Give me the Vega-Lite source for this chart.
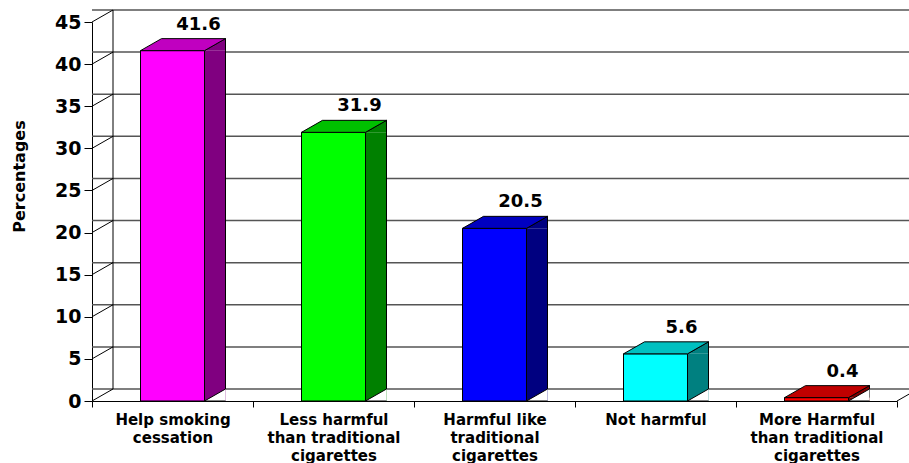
{
  "$schema": "https://vega.github.io/schema/vega-lite/v6.json",
  "width": 805,
  "height": 379,
  "autosize": "none",
  "padding": {"left": 92, "top": 22, "right": 12, "bottom": 62},
  "background": "white",
  "config": {
    "view": {"stroke": null},
    "font": "DejaVu Sans",
    "axisY": {
      "grid": false, "domainColor": "black", "tickColor": "black", "tickSize": 8,
      "labelFont": "DejaVu Sans", "labelFontWeight": "bold", "labelFontSize": 19, "labelColor": "black", "labelPadding": 3,
      "titleFont": "DejaVu Sans", "titleFontWeight": "bold", "titleFontSize": 16, "titleColor": "black",
      "titleX": -73, "titleY": 154, "titleAngle": -90, "titleAlign": "center", "titleBaseline": "middle", "zindex": 1
    },
    "axisX": {
      "grid": false, "domainColor": "black", "tickColor": "black", "tickBand": "extent", "tickSize": 6,
      "labelAngle": 0, "labelFont": "DejaVu Sans", "labelFontWeight": "bold", "labelFontSize": 15, "labelColor": "black",
      "labelLineHeight": 18, "labelPadding": 5, "labelLimit": 300, "zindex": 1
    }
  },
  "datasets": {
    "bars": [
      {"cat": "Help smoking cessation", "value": 41.6},
      {"cat": "Less harmful than traditional cigarettes", "value": 31.9},
      {"cat": "Harmful like traditional cigarettes", "value": 20.5},
      {"cat": "Not harmful", "value": 5.6},
      {"cat": "More Harmful than traditional cigarettes", "value": 0.4}
    ],
    "grid": [{"v": 0}, {"v": 5}, {"v": 10}, {"v": 15}, {"v": 20}, {"v": 25}, {"v": 30}, {"v": 35}, {"v": 40}, {"v": 45}],
    "one": [{}]
  },
  "resolve": {"scale": {"fill": "independent"}},
  "layer": [
    {
      "data": {"name": "grid"},
      "mark": {"type": "rule", "stroke": "#555555", "strokeWidth": 1.5, "xOffset": 21, "x2Offset": 21, "yOffset": -12, "y2Offset": -12},
      "encoding": {
        "y": {
          "field": "v", "type": "quantitative", "title": "Percentages",
          "scale": {"domain": [0, 45], "nice": false, "zero": true},
          "axis": {"values": [0, 5, 10, 15, 20, 25, 30, 35, 40, 45]}
        }
      }
    },
    {
      "data": {"name": "grid"},
      "mark": {"type": "rule", "stroke": "black", "strokeWidth": 1, "y2Offset": -12},
      "encoding": {
        "x": {"value": 0},
        "x2": {"value": 21},
        "y": {"field": "v", "type": "quantitative", "title": "Percentages", "axis": {"values": [0, 5, 10, 15, 20, 25, 30, 35, 40, 45]}},
        "y2": {"field": "v"}
      }
    },
    {
      "data": {"name": "one"},
      "mark": {"type": "rule", "stroke": "black", "strokeWidth": 1, "yOffset": -12, "y2Offset": -12},
      "encoding": {
        "x": {"value": 21},
        "y": {"datum": 45, "type": "quantitative", "title": "Percentages", "axis": {"values": [0, 5, 10, 15, 20, 25, 30, 35, 40, 45]}},
        "y2": {"datum": 0}
      }
    },
    {
      "data": {"name": "one"},
      "mark": {"type": "rule", "stroke": "black", "strokeWidth": 1, "y2Offset": -12},
      "encoding": {
        "x": {"value": 805},
        "x2": {"value": 826},
        "y": {"datum": 0, "type": "quantitative", "title": "Percentages", "axis": {"values": [0, 5, 10, 15, 20, 25, 30, 35, 40, 45]}},
        "y2": {"datum": 0}
      }
    },
    {
      "data": {"name": "bars"},
      "mark": {"type": "bar", "size": 21, "xOffset": 42.5, "strokeWidth": 0},
      "encoding": {
        "x": {
          "field": "cat", "type": "nominal", "sort": null, "title": null,
          "scale": {"paddingInner": 0, "paddingOuter": 0},
          "axis": {"labelExpr": "datum.value == 'Help smoking cessation' ? ['Help smoking','cessation'] : datum.value == 'Less harmful than traditional cigarettes' ? ['Less harmful','than traditional','cigarettes'] : datum.value == 'Harmful like traditional cigarettes' ? ['Harmful like','traditional','cigarettes'] : datum.value == 'More Harmful than traditional cigarettes' ? ['More Harmful','than traditional','cigarettes'] : datum.label"}
        },
        "y": {"field": "value", "type": "quantitative", "title": "Percentages", "axis": {"values": [0, 5, 10, 15, 20, 25, 30, 35, 40, 45]}},
        "fill": {
          "field": "cat", "type": "nominal", "legend": null,
          "scale": {"domain": ["Help smoking cessation", "Less harmful than traditional cigarettes", "Harmful like traditional cigarettes", "Not harmful", "More Harmful than traditional cigarettes"],
                    "range": ["#800080", "#008000", "#000080", "#008080", "#800000"]}
        }
      }
    },
    {
      "data": {"name": "bars"},
      "mark": {"type": "rule", "stroke": "black", "strokeWidth": 1, "xOffset": 53, "yOffset": -12, "y2Offset": -12},
      "encoding": {
        "x": {"field": "cat", "type": "nominal", "sort": null, "title": null,
              "axis": {"labelExpr": "datum.value == 'Help smoking cessation' ? ['Help smoking','cessation'] : datum.value == 'Less harmful than traditional cigarettes' ? ['Less harmful','than traditional','cigarettes'] : datum.value == 'Harmful like traditional cigarettes' ? ['Harmful like','traditional','cigarettes'] : datum.value == 'More Harmful than traditional cigarettes' ? ['More Harmful','than traditional','cigarettes'] : datum.label"}},
        "y": {"field": "value", "type": "quantitative", "title": "Percentages", "axis": {"values": [0, 5, 10, 15, 20, 25, 30, 35, 40, 45]}},
        "y2": {"datum": 0}
      }
    },
    {
      "data": {"name": "bars"},
      "mark": {"type": "point", "shape": "M32,0L53,-12L53,0", "size": 4, "filled": true, "opacity": 1, "stroke": "black", "strokeWidth": 1},
      "encoding": {
        "x": {"field": "cat", "type": "nominal", "sort": null, "title": null,
              "axis": {"labelExpr": "datum.value == 'Help smoking cessation' ? ['Help smoking','cessation'] : datum.value == 'Less harmful than traditional cigarettes' ? ['Less harmful','than traditional','cigarettes'] : datum.value == 'Harmful like traditional cigarettes' ? ['Harmful like','traditional','cigarettes'] : datum.value == 'More Harmful than traditional cigarettes' ? ['More Harmful','than traditional','cigarettes'] : datum.label"}},
        "y": {"field": "value", "type": "quantitative", "title": "Percentages", "axis": {"values": [0, 5, 10, 15, 20, 25, 30, 35, 40, 45]}},
        "fill": {
          "field": "cat", "type": "nominal", "legend": null,
          "scale": {"domain": ["Help smoking cessation", "Less harmful than traditional cigarettes", "Harmful like traditional cigarettes", "Not harmful", "More Harmful than traditional cigarettes"],
                    "range": ["#800080", "#008000", "#000080", "#008080", "#800000"]}
        }
      }
    },
    {
      "data": {"name": "bars"},
      "mark": {"type": "bar", "size": 64, "stroke": "black", "strokeWidth": 1},
      "encoding": {
        "x": {"field": "cat", "type": "nominal", "sort": null, "title": null,
              "axis": {"labelExpr": "datum.value == 'Help smoking cessation' ? ['Help smoking','cessation'] : datum.value == 'Less harmful than traditional cigarettes' ? ['Less harmful','than traditional','cigarettes'] : datum.value == 'Harmful like traditional cigarettes' ? ['Harmful like','traditional','cigarettes'] : datum.value == 'More Harmful than traditional cigarettes' ? ['More Harmful','than traditional','cigarettes'] : datum.label"}},
        "y": {"field": "value", "type": "quantitative", "title": "Percentages", "axis": {"values": [0, 5, 10, 15, 20, 25, 30, 35, 40, 45]}},
        "fill": {
          "field": "cat", "type": "nominal", "legend": null,
          "scale": {"domain": ["Help smoking cessation", "Less harmful than traditional cigarettes", "Harmful like traditional cigarettes", "Not harmful", "More Harmful than traditional cigarettes"],
                    "range": ["#FF00FF", "#00FF00", "#0000FF", "#00FFFF", "#FF0000"]}
        }
      }
    },
    {
      "data": {"name": "bars"},
      "mark": {"type": "point", "shape": "M53,0L32,0L53,-12", "size": 4, "filled": true, "opacity": 1, "fill": "white", "stroke": "black", "strokeWidth": 1},
      "encoding": {
        "x": {"field": "cat", "type": "nominal", "sort": null, "title": null,
              "axis": {"labelExpr": "datum.value == 'Help smoking cessation' ? ['Help smoking','cessation'] : datum.value == 'Less harmful than traditional cigarettes' ? ['Less harmful','than traditional','cigarettes'] : datum.value == 'Harmful like traditional cigarettes' ? ['Harmful like','traditional','cigarettes'] : datum.value == 'More Harmful than traditional cigarettes' ? ['More Harmful','than traditional','cigarettes'] : datum.label"}},
        "y": {"datum": 0, "type": "quantitative", "title": "Percentages", "axis": {"values": [0, 5, 10, 15, 20, 25, 30, 35, 40, 45]}}
      }
    },
    {
      "data": {"name": "bars"},
      "mark": {"type": "point", "shape": "M-32,0L32,0L53,-12L-11,-12Z", "size": 4, "filled": true, "opacity": 1, "stroke": "black", "strokeWidth": 1},
      "encoding": {
        "x": {"field": "cat", "type": "nominal", "sort": null, "title": null,
              "axis": {"labelExpr": "datum.value == 'Help smoking cessation' ? ['Help smoking','cessation'] : datum.value == 'Less harmful than traditional cigarettes' ? ['Less harmful','than traditional','cigarettes'] : datum.value == 'Harmful like traditional cigarettes' ? ['Harmful like','traditional','cigarettes'] : datum.value == 'More Harmful than traditional cigarettes' ? ['More Harmful','than traditional','cigarettes'] : datum.label"}},
        "y": {"field": "value", "type": "quantitative", "title": "Percentages", "axis": {"values": [0, 5, 10, 15, 20, 25, 30, 35, 40, 45]}},
        "fill": {
          "field": "cat", "type": "nominal", "legend": null,
          "scale": {"domain": ["Help smoking cessation", "Less harmful than traditional cigarettes", "Harmful like traditional cigarettes", "Not harmful", "More Harmful than traditional cigarettes"],
                    "range": ["#C000C0", "#00C000", "#0000C0", "#00C0C0", "#C00000"]}
        }
      }
    },
    {
      "data": {"name": "bars"},
      "mark": {"type": "text", "font": "DejaVu Sans", "fontWeight": "bold", "fontSize": 18, "color": "black", "dx": 26, "dy": -21, "baseline": "alphabetic", "align": "center"},
      "encoding": {
        "x": {"field": "cat", "type": "nominal", "sort": null, "title": null,
              "axis": {"labelExpr": "datum.value == 'Help smoking cessation' ? ['Help smoking','cessation'] : datum.value == 'Less harmful than traditional cigarettes' ? ['Less harmful','than traditional','cigarettes'] : datum.value == 'Harmful like traditional cigarettes' ? ['Harmful like','traditional','cigarettes'] : datum.value == 'More Harmful than traditional cigarettes' ? ['More Harmful','than traditional','cigarettes'] : datum.label"}},
        "y": {"field": "value", "type": "quantitative", "title": "Percentages", "axis": {"values": [0, 5, 10, 15, 20, 25, 30, 35, 40, 45]}},
        "text": {"field": "value", "type": "quantitative", "format": ".1f"}
      }
    }
  ]
}
